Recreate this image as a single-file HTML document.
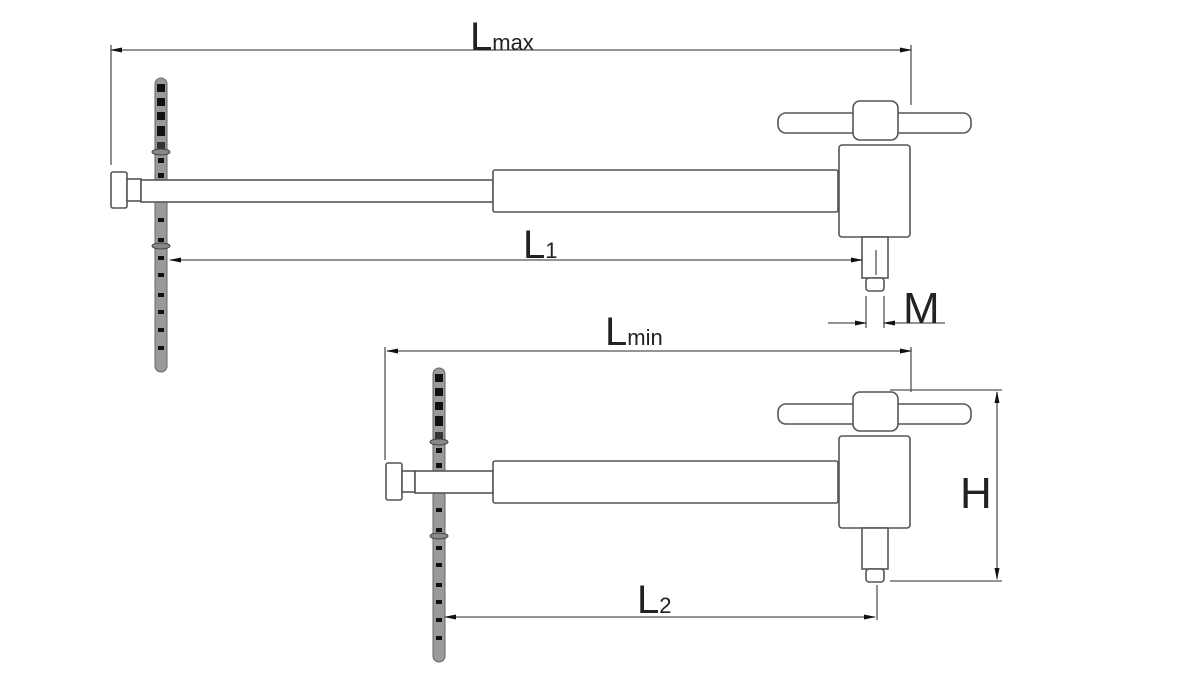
<!DOCTYPE html>
<html><head><style>body{margin:0;background:#fff}svg{display:block}</style></head><body>
<svg width="1181" height="700" viewBox="0 0 1181 700" xmlns="http://www.w3.org/2000/svg" font-family="Liberation Sans, sans-serif">
<defs>
<marker id="a" markerWidth="12" markerHeight="8" refX="11" refY="4" orient="auto-start-reverse" markerUnits="userSpaceOnUse"><path d="M0,1.5 L12,4 L0,6.5z" fill="#111"/></marker>
<g id="scale">
<rect x="0" y="0" width="12" height="294" rx="6" fill="#9a9a9a" stroke="#666"/>
<g fill="#111"><rect x="2" y="6" width="8" height="8"/><rect x="2" y="20" width="8" height="8"/><rect x="2" y="34" width="8" height="8"/><rect x="2" y="48" width="8" height="10"/><rect x="2" y="64" width="8" height="8" fill="#333"/><rect x="3" y="80" width="6" height="5"/><rect x="3" y="95" width="6" height="5"/><rect x="3" y="140" width="6" height="4"/><rect x="3" y="160" width="6" height="4"/><rect x="3" y="178" width="6" height="4"/><rect x="3" y="195" width="6" height="4"/><rect x="3" y="215" width="6" height="4"/><rect x="3" y="232" width="6" height="4"/><rect x="3" y="250" width="6" height="4"/><rect x="3" y="268" width="6" height="4"/></g>
<ellipse cx="6" cy="74" rx="9" ry="3" fill="#888" stroke="#444"/><ellipse cx="6" cy="168" rx="9" ry="3" fill="#888" stroke="#444"/>
</g>
<g id="head" fill="#fff" stroke="#555" stroke-width="1.6">
<rect x="778" y="113" width="193" height="20" rx="8"/>
<rect x="853" y="101" width="45" height="39" rx="7"/>
<rect x="839" y="145" width="71" height="92" rx="3"/>
<rect x="862" y="237" width="26" height="41"/>
<rect x="866" y="278" width="18" height="13" rx="3"/>
</g>
</defs>
<g stroke="#555" stroke-width="1.3" fill="none">
<!-- top tool -->
<line x1="111" y1="45" x2="111" y2="165"/><line x1="911" y1="45" x2="911" y2="105"/>
<line x1="111" y1="50" x2="911" y2="50" marker-start="url(#a)" marker-end="url(#a)"/>
</g>
<use href="#scale" x="155" y="78"/>
<g fill="#fff" stroke="#555" stroke-width="1.6">
<rect x="111" y="172" width="16" height="36" rx="2"/>
<rect x="127" y="179" width="14" height="22"/>
<rect x="141" y="180" width="352" height="22"/>
<rect x="493" y="170" width="345" height="42" rx="2"/>
</g>
<use href="#head"/>
<g stroke="#555" stroke-width="1.3" fill="none">
<line x1="170" y1="260" x2="862" y2="260" marker-start="url(#a)" marker-end="url(#a)"/>
<line x1="876" y1="250" x2="876" y2="275"/>
<line x1="866" y1="296" x2="866" y2="328"/><line x1="884" y1="296" x2="884" y2="328"/>
<line x1="828" y1="323" x2="866" y2="323" marker-end="url(#a)"/><line x1="945" y1="323" x2="884" y2="323" marker-end="url(#a)"/>
<!-- bottom -->
<line x1="385" y1="347" x2="385" y2="460"/><line x1="911" y1="347" x2="911" y2="392"/>
<line x1="387" y1="351" x2="911" y2="351" marker-start="url(#a)" marker-end="url(#a)"/>
<line x1="890" y1="390" x2="1002" y2="390"/><line x1="890" y1="581" x2="1002" y2="581"/>
<line x1="997" y1="392" x2="997" y2="579" marker-start="url(#a)" marker-end="url(#a)"/>
<line x1="877" y1="585" x2="877" y2="620"/>
<line x1="445" y1="617" x2="875" y2="617" marker-start="url(#a)" marker-end="url(#a)"/>
</g>
<use href="#scale" x="433" y="368"/>
<g fill="#fff" stroke="#555" stroke-width="1.6">
<rect x="386" y="463" width="16" height="37" rx="2"/>
<rect x="402" y="471" width="13" height="21"/>
<rect x="415" y="471" width="78" height="22"/>
<rect x="493" y="461" width="345" height="42" rx="2"/>
</g>
<use href="#head" y="291"/>
<g fill="#222">
<text x="470" y="50" font-size="40">L<tspan font-size="22">max</tspan></text>
<text x="523" y="258" font-size="40">L<tspan font-size="22">1</tspan></text>
<text x="903" y="323" font-size="44">M</text>
<text x="605" y="345" font-size="40">L<tspan font-size="22">min</tspan></text>
<text x="960" y="508" font-size="44">H</text>
<text x="637" y="613" font-size="40">L<tspan font-size="22">2</tspan></text>
</g>
</svg>
</body></html>
